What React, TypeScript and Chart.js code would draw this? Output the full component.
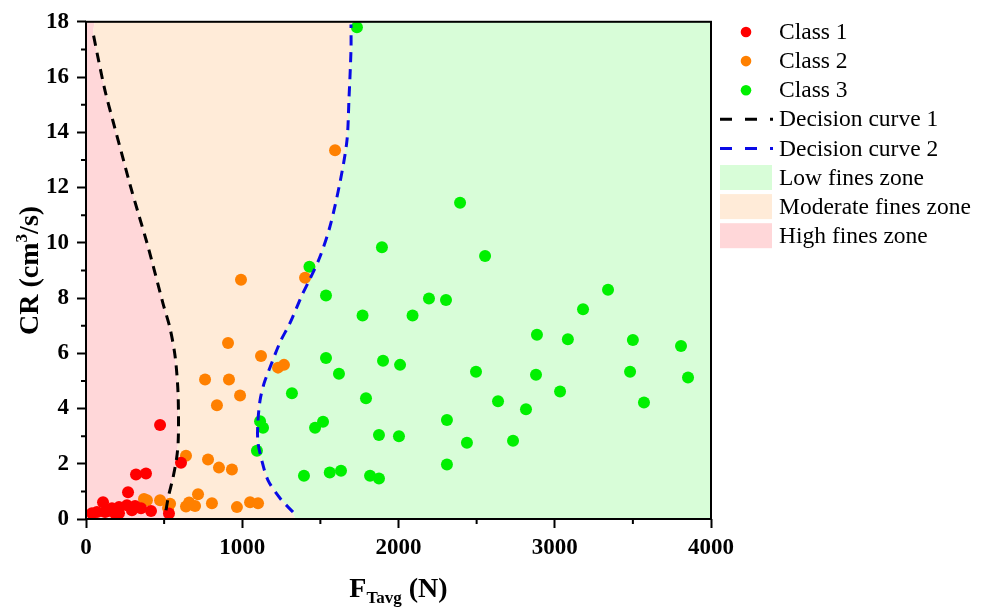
import React, { useEffect, useRef } from 'react';
import { Chart, registerables } from 'chart.js';

Chart.register(...registerables);

// ---------- data ----------
const class1X = [38, 70, 109, 122, 150, 166, 186, 211, 211, 262, 269, 294, 314, 320, 352, 384, 416, 474, 531, 608];
const class1Y = [0.21, 0.25, 0.61, 0.25, 0.3, 0.39, 0.21, 0.43, 0.21, 0.5, 0.97, 0.32, 0.47, 1.61, 0.39, 1.65, 0.29, 3.4, 0.2, 2.04];

const class2X = [1594, 992, 1402, 909, 1120, 1229, 1267, 762, 915, 986, 838, 640, 781, 851, 934, 717, 371, 390, 474, 538, 525, 640, 660, 698, 806, 966, 1050, 1101];
const class2Y = [13.35, 8.66, 8.73, 6.37, 5.9, 5.48, 5.58, 5.05, 5.05, 4.47, 4.12, 2.29, 2.15, 1.86, 1.79, 0.9, 0.72, 0.68, 0.68, 0.55, 0.4, 0.45, 0.6, 0.47, 0.57, 0.43, 0.61, 0.57];

const class3X = [1734, 2394, 1894, 2554, 1430, 1536, 2195, 2304, 1770, 2090, 3341, 3181, 2886, 3084, 3500, 3808, 1536, 1901, 2010, 1619, 2496, 2880, 3482, 3853, 1318, 1792, 2637, 3571, 3034, 2816, 1114, 1133, 1466, 1517, 2310, 1875, 2003, 2438, 2733, 1094, 2310, 1395, 1560, 1632, 1818, 1875];
const class3Y = [17.8, 11.45, 9.84, 9.52, 9.13, 8.09, 7.98, 7.93, 7.37, 7.37, 8.3, 7.59, 6.67, 6.51, 6.48, 6.26, 5.83, 5.73, 5.58, 5.26, 5.33, 5.22, 5.33, 5.12, 4.55, 4.37, 4.26, 4.22, 4.62, 3.97, 3.54, 3.3, 3.3, 3.52, 3.58, 3.04, 3.0, 2.76, 2.83, 2.47, 1.97, 1.57, 1.68, 1.75, 1.57, 1.47];

const curve1X = [512, 527, 557, 580, 590, 592, 587, 570, 538, 493, 442, 390, 333, 282, 230, 173, 122, 77, 45];
const curve1Y = [0.32, 0.8, 1.5, 2.2, 2.8, 3.8, 4.8, 5.9, 6.9, 7.8, 8.9, 10.0, 11.1, 12.1, 13.2, 14.4, 15.5, 16.7, 17.6];

const curve2X = [1325, 1242, 1165, 1126, 1100, 1100, 1114, 1139, 1165, 1242, 1306, 1382, 1434, 1498, 1562, 1626, 1670, 1683, 1696, 1696];
const curve2Y = [0.25, 0.75, 1.4, 2.1, 2.8, 3.5, 4.3, 4.9, 5.3, 6.4, 7.1, 8.1, 8.7, 9.5, 10.6, 12.2, 13.7, 15.2, 17.0, 17.9];

// zone boundary end points (where the boundaries meet the plot edges)
const boundary1Ends = [{ x: 525, y: 0 }, { x: 55, y: 18 }];
const boundary2Ends = [{ x: 1338, y: 0 }, { x: 1700, y: 18 }];

const xMin = 0, xMax = 4000, xStep = 1000, xMinorStep = 500;
const yMin = 0, yMax = 18, yStep = 2, yMinorStep = 1;

const legendLabels = ['Class 1', 'Class 2', 'Class 3', 'Decision curve 1', 'Decision curve 2', 'Low fines zone', 'Moderate fines zone', 'High fines zone'];

// ---------- styles ----------
const RED = '#ff0000';
const ORANGE = '#ff8000';
const GREEN = '#00f000';
const BLUE = '#0a0ae6';
const BLACK = '#000000';
const LOW_ZONE = '#d8fdd8';
const MOD_ZONE = '#ffebd8';
const HIGH_ZONE = '#ffd7d9';
const FONT = '"Liberation Serif", "Times New Roman", serif';

const pts = (xs: number[], ys: number[]) => xs.map((x, i) => ({ x, y: ys[i] }));

const overlayPlugin = {
  id: 'overlay',
  afterDatasetsDraw(chart: any) {
    const { ctx, chartArea } = chart;
    const { left, right, top, bottom } = chartArea;
    const xs = chart.scales.x;
    const ys = chart.scales.y;
    ctx.save();
    ctx.strokeStyle = '#000';
    ctx.lineWidth = 2;
    ctx.strokeRect(left, top, right - left, bottom - top);
    // minor ticks
    ctx.beginPath();
    for (let v = xMin + xMinorStep; v < xMax; v += xStep) {
      const p = xs.getPixelForValue(v);
      ctx.moveTo(p, bottom);
      ctx.lineTo(p, bottom + 5);
    }
    for (let v = yMin + yMinorStep; v < yMax; v += yStep) {
      const p = ys.getPixelForValue(v);
      ctx.moveTo(left, p);
      ctx.lineTo(left - 5, p);
    }
    ctx.stroke();
    ctx.restore();
  },
  afterDraw(chart: any) {
    const { ctx, chartArea } = chart;
    const { left, right, top, bottom } = chartArea;
    ctx.save();
    ctx.fillStyle = '#000';
    ctx.textBaseline = 'alphabetic';
    ctx.textAlign = 'left';

    // Y title: CR (cm^3/s)
    const big = `bold 28px ${FONT}`;
    const small = `bold 17px ${FONT}`;
    ctx.save();
    ctx.translate(38, (top + bottom) / 2);
    ctx.rotate(-Math.PI / 2);
    ctx.font = big;
    const a = 'CR (cm', c = '/s)';
    const wa = ctx.measureText(a).width;
    const wc = ctx.measureText(c).width;
    ctx.font = small;
    const wb = ctx.measureText('3').width;
    let x0 = -(wa + wb + wc) / 2;
    ctx.font = big;
    ctx.fillText(a, x0, 0);
    ctx.font = small;
    ctx.fillText('3', x0 + wa, -11);
    ctx.font = big;
    ctx.fillText(c, x0 + wa + wb, 0);
    ctx.restore();

    // X title: F_Tavg (N)
    ctx.font = big;
    const f = 'F', n = ' (N)';
    const wf = ctx.measureText(f).width;
    const wn = ctx.measureText(n).width;
    ctx.font = small;
    const ws = ctx.measureText('Tavg').width;
    const cx = (left + right) / 2;
    let sx = cx - (wf + ws + wn) / 2;
    const by = 597;
    ctx.font = big;
    ctx.fillText(f, sx, by);
    ctx.font = small;
    ctx.fillText('Tavg', sx + wf, by + 6);
    ctx.font = big;
    ctx.fillText(n, sx + wf + ws, by);

    // Legend
    const lx = 720, lw = 52, tx = 779, y0 = 32, dy = 29.1;
    ctx.font = `23.5px ${FONT}`;
    ctx.textBaseline = 'middle';
    const markerColors = [RED, ORANGE, GREEN];
    const lineColors = [BLACK, BLUE];
    const zoneColors = [LOW_ZONE, MOD_ZONE, HIGH_ZONE];
    legendLabels.forEach((label, i) => {
      const y = y0 + dy * i;
      if (i < 3) {
        ctx.fillStyle = markerColors[i];
        ctx.beginPath();
        ctx.arc(lx + lw / 2, y, 5.3, 0, Math.PI * 2);
        ctx.fill();
      } else if (i < 5) {
        ctx.strokeStyle = lineColors[i - 3];
        ctx.lineWidth = 3;
        ctx.setLineDash([12, 13]);
        ctx.beginPath();
        ctx.moveTo(lx, y);
        ctx.lineTo(lx + lw + 1, y);
        ctx.stroke();
        ctx.setLineDash([]);
      } else {
        ctx.fillStyle = zoneColors[i - 5];
        ctx.fillRect(lx, y - 12.5, lw, 25);
      }
      ctx.fillStyle = '#000';
      ctx.fillText(label, tx, y + 1);
    });
    ctx.restore();
  },
};

export default function App() {
  const ref = useRef<HTMLCanvasElement | null>(null);
  useEffect(() => {
    document.body.style.margin = '0';
    const canvas = ref.current;
    if (!canvas) return;

    const c1 = pts(curve1X, curve1Y);
    const c2 = pts(curve2X, curve2Y);
    const b1 = [boundary1Ends[0], ...c1, boundary1Ends[1]];
    const b2 = [boundary2Ends[0], ...c2, boundary2Ends[1]];

    const highZone = [{ x: xMin, y: yMin }, ...b1, { x: xMin, y: yMax }];
    const modZone = [...b1, ...b2.slice().reverse()];
    const lowZone = [...b2, { x: xMax, y: yMax }, { x: xMax, y: yMin }];

    const zone = (data: any[], color: string) => ({
      type: 'line' as const,
      data,
      showLine: true,
      fill: 'shape',
      backgroundColor: color,
      borderWidth: 0,
      borderColor: 'rgba(0,0,0,0)',
      pointRadius: 0,
      tension: 0,
      order: 3,
    });
    const curve = (data: any[], color: string) => ({
      type: 'line' as const,
      data,
      showLine: true,
      fill: false,
      borderColor: color,
      borderWidth: 3,
      borderDash: [10, 7],
      pointRadius: 0,
      tension: 0.3,
      order: 0,
    });
    const scatter = (data: any[], color: string) => ({
      type: 'scatter' as const,
      data,
      backgroundColor: color,
      borderWidth: 0,
      pointRadius: 6,
      order: 1,
    });

    const chart = new Chart(canvas, {
      type: 'scatter',
      data: {
        datasets: [
          curve(c1, BLACK),
          curve(c2, BLUE),
          scatter(pts(class1X, class1Y), RED),
          scatter(pts(class2X, class2Y), ORANGE),
          scatter(pts(class3X, class3Y), GREEN),
          zone(lowZone, LOW_ZONE),
          zone(modZone, MOD_ZONE),
          zone(highZone, HIGH_ZONE),
        ] as any,
      },
      options: {
        responsive: false,
        animation: false,
        devicePixelRatio: 1,
        layout: { padding: { top: 16, right: 276, left: 0, bottom: 0 } },
        plugins: { legend: { display: false }, tooltip: { enabled: false } },
        scales: {
          x: {
            type: 'linear',
            min: xMin,
            max: xMax,
            afterFit: (s: any) => { s.height = 91; },
            border: { display: false },
            grid: { drawOnChartArea: false, drawTicks: true, tickLength: 9, tickWidth: 2, tickColor: '#000' },
            ticks: {
              stepSize: xStep, color: '#000', padding: 6,
              font: { family: FONT, size: 23, weight: 'bold' },
              callback: (v: any) => String(v),
            },
          },
          y: {
            type: 'linear',
            min: yMin,
            max: yMax,
            afterFit: (s: any) => { s.width = 86; },
            border: { display: false },
            grid: { drawOnChartArea: false, drawTicks: true, tickLength: 9, tickWidth: 2, tickColor: '#000' },
            ticks: {
              stepSize: yStep, color: '#000', padding: 8,
              font: { family: FONT, size: 23, weight: 'bold' },
              callback: (v: any) => String(v),
            },
          },
        },
      } as any,
      plugins: [overlayPlugin],
    });
    return () => chart.destroy();
  }, []);
  return <canvas ref={ref} width={987} height={610} style={{ display: 'block' }} />;
}
